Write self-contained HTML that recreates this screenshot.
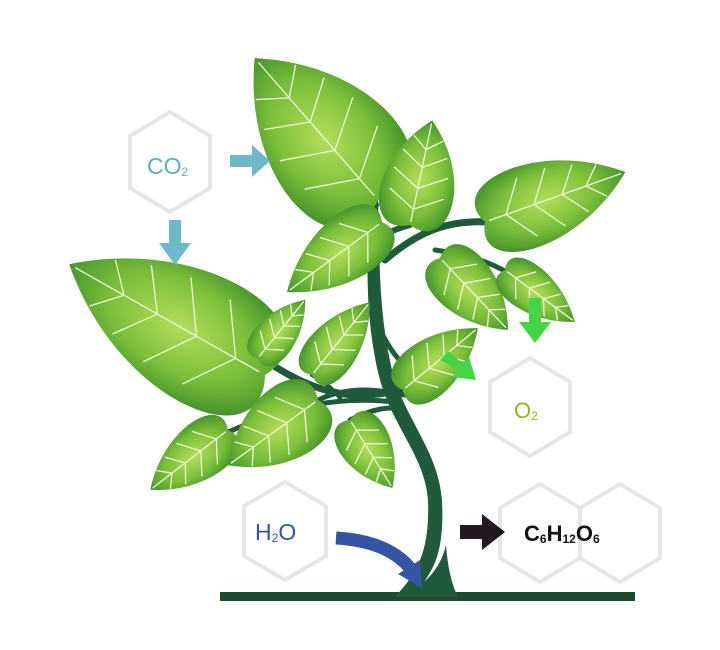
<!DOCTYPE html>
<html><head><meta charset="utf-8"><style>
html,body{margin:0;padding:0;background:#fff;}
svg{display:block;}
text{font-family:"Liberation Sans",sans-serif;}
</style></head><body>
<svg width="720" height="650" viewBox="0 0 720 650" xmlns="http://www.w3.org/2000/svg">
<defs>
<radialGradient id="lg" cx="0.45" cy="0.5" r="0.6">
<stop offset="0" stop-color="#b4de5a"/>
<stop offset="0.55" stop-color="#7cbf3a"/>
<stop offset="1" stop-color="#3a8a2a"/>
</radialGradient>
<path id="leaf" d="M0,0 C-0.18,-0.85 0.5,-1.12 1,0 C0.5,1.12 -0.18,0.85 0,0Z"/>
<g id="veins" fill="none" stroke="#eef6d8" stroke-width="1.3" vector-effect="non-scaling-stroke">
<path d="M0.03,0 L0.97,0" vector-effect="non-scaling-stroke"/>
<path d="M0.15,0 L0.3,-0.55 M0.15,0 L0.3,0.55 M0.35,0 L0.5,-0.55 M0.35,0 L0.5,0.55 M0.55,0 L0.68,-0.45 M0.55,0 L0.68,0.45 M0.72,0 L0.83,-0.3 M0.72,0 L0.83,0.3" vector-effect="non-scaling-stroke"/>
</g>
</defs>

<g fill="none" stroke="#e6e6e6" stroke-width="4">
<polygon points="170,112 210,136 210,188 170,212 130,188 130,136"/>
<polygon points="530,358 570,382 570,432 530,456 490,432 490,382"/>
<polygon points="285,482 326,506 326,556 285,580 244,556 244,506"/>
<polygon points="540,484 580,508 580,558 540,582 500,558 500,508"/>
<polygon points="620,484 660,508 660,558 620,582 580,558 580,508"/>
</g>

<rect x="220" y="592" width="415" height="9" fill="#1e4a2c"/>

<g fill="none" stroke="#1f5a3a" stroke-linecap="round">
<path d="M375,205 C365,190 355,180 345,170" stroke-width="8"/>
<path d="M380,240 C390,230 400,228 410,225" stroke-width="6"/>
<path d="M385,260 C420,230 450,220 488,222" stroke-width="7"/>
<path d="M382,230 C370,228 360,240 300,285" stroke-width="5"/>
<path d="M435,250 C470,255 490,262 512,275" stroke-width="5"/>
<path d="M380,330 C400,370 420,380 440,380" stroke-width="5"/>
<path d="M400,390 C360,400 320,398 265,360" stroke-width="7"/>
<path d="M405,395 C380,390 350,385 318,400" stroke-width="5"/>
<path d="M402,410 C390,405 370,410 350,420" stroke-width="5"/>
<path d="M395,402 C330,395 280,410 228,432" stroke-width="5"/>
<path d="M340,398 C330,385 320,380 312,375" stroke-width="4"/>
</g>
<path d="M412,597 C430,575 445,560 442,500 C438,450 405,420 392,370 C378,310 380,260 378,200 L368,200 C368,260 364,310 378,372 C390,425 425,455 428,500 C430,555 415,575 395,597 Z" fill="#1f5a3a"/>
<path d="M400,597 C425,585 440,570 446,545 C448,570 452,585 458,597 Z" fill="#1f5a3a"/>

<g>
<g transform="translate(378,200) rotate(-131) scale(188,88)"><use href="#leaf" fill="url(#lg)"/><use href="#veins"/></g>
<g transform="translate(265,375) rotate(-150.5) scale(225,88)"><use href="#leaf" fill="url(#lg)"/><use href="#veins"/></g>
<g transform="translate(410,225) rotate(-78) scale(107,50)"><use href="#leaf" fill="url(#lg)"/><use href="#veins"/></g>
<g transform="translate(485,222) rotate(-19.6) scale(149,56)"><use href="#leaf" fill="url(#lg)"/><use href="#veins"/></g>
<g transform="translate(382,222) rotate(143.6) scale(118,44)"><use href="#leaf" fill="url(#lg)"/><use href="#veins"/></g>
<g transform="translate(440,258) rotate(46.6) scale(99,41)"><use href="#leaf" fill="url(#lg)"/><use href="#veins"/></g>
<g transform="translate(505,270) rotate(36.6) scale(87,31)"><use href="#leaf" fill="url(#lg)"/><use href="#veins"/></g>
<g transform="translate(258,358) rotate(-51) scale(75,28)"><use href="#leaf" fill="url(#lg)"/><use href="#veins"/></g>
<g transform="translate(312,375) rotate(-51.5) scale(93,34)"><use href="#leaf" fill="url(#lg)"/><use href="#veins"/></g>
<g transform="translate(403,390) rotate(-39.6) scale(97,38)"><use href="#leaf" fill="url(#lg)"/><use href="#veins"/></g>
<g transform="translate(228,430) rotate(142.4) scale(98,38)"><use href="#leaf" fill="url(#lg)"/><use href="#veins"/></g>
<g transform="translate(318,400) rotate(144) scale(111,50)"><use href="#leaf" fill="url(#lg)"/><use href="#veins"/></g>
<g transform="translate(350,420) rotate(58) scale(80,35)"><use href="#leaf" fill="url(#lg)"/><use href="#veins"/></g>
</g>

<polygon points="230,155 252,155 252,145 270,161 252,177 252,167 230,167" fill="#6fb8c8"/>
<polygon points="169,220 181,220 181,243 191,243 175,265 159,243 169,243" fill="#6fb8c8"/>
<polygon points="529,298 541,298 541,322 551,322 535,343 519,322 529,322" fill="#44d444"/>
<polygon points="440,360 448,351 463,364 469,357 476,380 452,377 458,370" fill="#44d444"/>
<path d="M336,538 C370,540 395,550 410,568" fill="none" stroke="#3455a4" stroke-width="13"/>
<polygon points="398,574 420,560 422,588" fill="#3455a4"/>
<polygon points="460,525 482,525 482,514 505,532 482,550 482,539 460,539" fill="#231820"/>

<text x="147" y="174" font-size="23" fill="#5aaec0">CO<tspan font-size="12" dy="2">2</tspan></text>
<text x="514" y="418" font-size="22" fill="#8ab828">O<tspan font-size="12" dy="2">2</tspan></text>
<text x="255" y="540" font-size="23" fill="#3455a4">H<tspan font-size="12" dy="2">2</tspan><tspan dy="-2">O</tspan></text>
<text x="524" y="541" font-size="22" fill="#111" font-weight="bold">C<tspan font-size="12" dy="2">6</tspan><tspan dy="-2">H</tspan><tspan font-size="12" dy="2">12</tspan><tspan dy="-2">O</tspan><tspan font-size="12" dy="2">6</tspan></text>
</svg>
</body></html>
